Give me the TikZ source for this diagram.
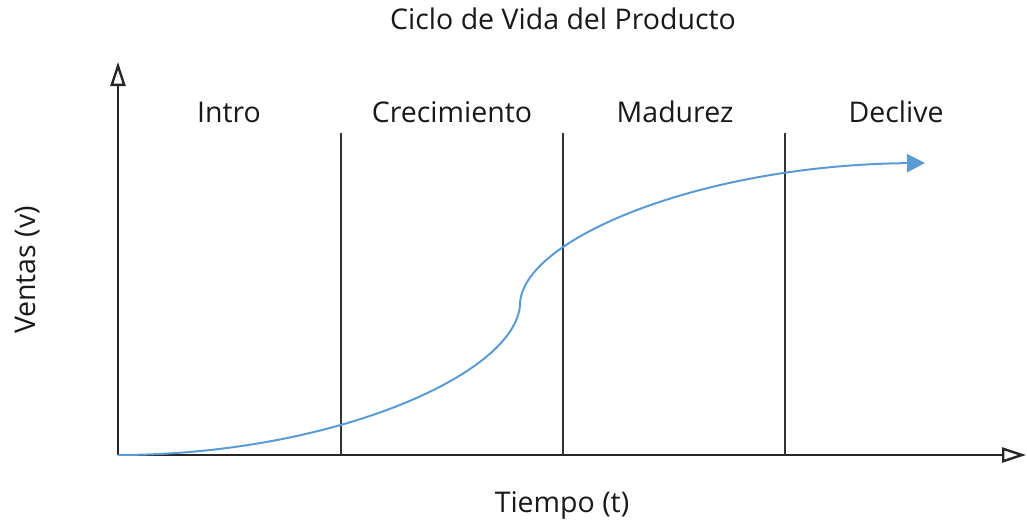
\documentclass[tikz,border=0pt]{standalone}
\usepackage{fontspec}
\setmainfont{Open Sans}
\usetikzlibrary{arrows.meta}
\definecolor{curveblue}{RGB}{91,155,213}
\begin{document}
\begin{tikzpicture}[x=1pt,y=-1pt,
  axis/.style={line width=2.2pt,black!85,-{Triangle[open,length=24pt,width=15pt,line width=2.4pt]}},
  divider/.style={line width=1.6pt,black!80},
  lbl/.style={font=\fontsize{28.5}{33}\selectfont,text=black!90,inner sep=0pt,anchor=base},
  curvestyle/.style={line width=2pt,curveblue,-{Triangle[length=18pt,width=18pt]}}]
\useasboundingbox (0,0) rectangle (1027,519);
\coordinate (O) at (118,455);
\coordinate (ytip) at (118,62);
\coordinate (xtip) at (1026,455);
\draw[axis] (O) -- (ytip);
\draw[axis] (O) -- (xtip);
\foreach \x/\n in {341/a,563/b,785/c}{
  \coordinate (t\n) at (\x,133);
  \coordinate (b\n) at (\x,455);
  \draw[divider] (t\n) -- (b\n);
}
\node[lbl] (title) at (563,30) {Ciclo de Vida del Producto};
\node[lbl] (intro) at (229,122) {Intro};
\node[lbl] (crec) at (452,122) {Crecimiento};
\node[lbl] (mad) at (675,122) {Madurez};
\node[lbl] (decl) at (896,122) {Declive};
\node[lbl] (tiempo) at (562,512) {Tiempo (t)};
\node[lbl,rotate=90] (ventas) at (35,270) {Ventas (v)};
\coordinate (mid) at (520,305);
\coordinate (end) at (925,163);
\draw[curvestyle] (O) .. controls (330,455) and (515,375) .. (mid)
  .. controls (520,240) and (700,165) .. (end);
\end{tikzpicture}
\end{document}
